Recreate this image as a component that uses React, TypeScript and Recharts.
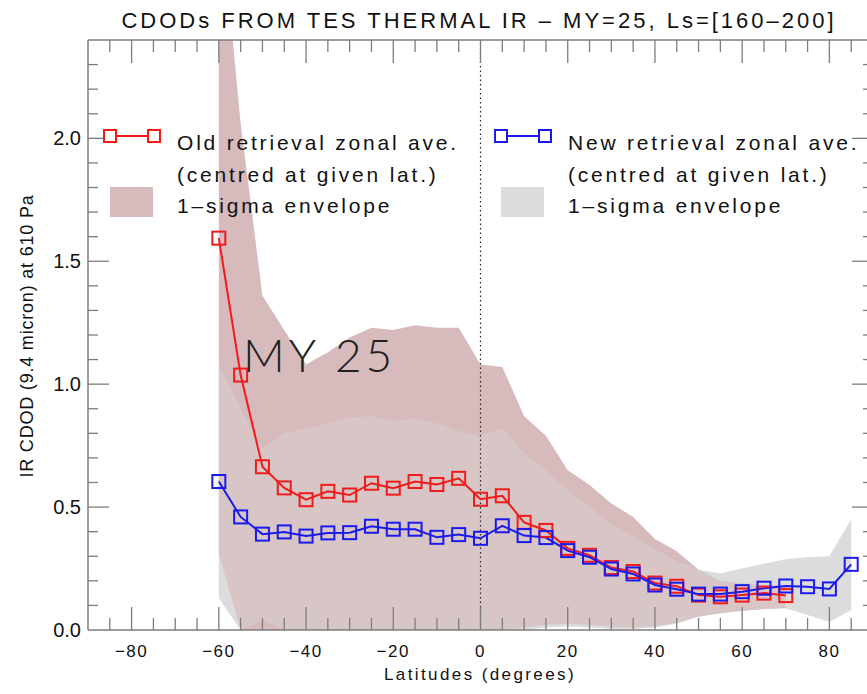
import React from "react";
import { ComposedChart, Line, Area, XAxis, YAxis, ReferenceLine } from "recharts";

// latitude bins (centre of each 5 degree band)
const LATS = [
  -60, -55, -50, -45, -40, -35, -30, -25, -20, -15, -10, -5, 0, 5, 10, 15, 20, 25, 30, 35, 40, 45,
  50, 55, 60, 65, 70, 75, 80, 85,
];

// old retrieval zonal average + 1-sigma envelope
const OLD_MEAN = [
  1.594, 1.037, 0.664, 0.578, 0.53, 0.564, 0.549, 0.597, 0.577, 0.604, 0.592, 0.617, 0.532, 0.546,
  0.438, 0.405, 0.332, 0.304, 0.254, 0.238, 0.191, 0.178, 0.142, 0.135, 0.142, 0.15, 0.14, null,
  null, null,
];
const OLD_UPPER = [
  3.0, 2.06, 1.36, 1.22, 1.08, 1.13, 1.19, 1.23, 1.22, 1.24, 1.23, 1.23, 1.08, 1.07, 0.87, 0.79,
  0.65, 0.59, 0.515, 0.46, 0.37, 0.32, 0.245, 0.2, 0.19, 0.185, 0.18, null, null, null,
];
const OLD_LOWER = [
  0.31, 0, 0, 0, 0, 0, 0, 0, 0, 0, 0, 0, 0, 0, 0.01, 0.02, 0.025, 0.02, 0.012, 0.008, 0.015, 0.03,
  0.055, 0.068, 0.078, 0.085, 0.09, null, null, null,
];

// new retrieval zonal average + 1-sigma envelope
const NEW_MEAN = [
  0.604, 0.46, 0.39, 0.399, 0.382, 0.395, 0.396, 0.422, 0.41, 0.41, 0.377, 0.388, 0.373, 0.424,
  0.384, 0.376, 0.323, 0.296, 0.248, 0.228, 0.183, 0.166, 0.146, 0.146, 0.156, 0.17, 0.179, 0.176,
  0.167, 0.267,
];
const NEW_UPPER = [
  1.08, 0.9, 0.74, 0.8, 0.82, 0.84, 0.865, 0.87, 0.85, 0.86, 0.84, 0.81, 0.79, 0.82, 0.72, 0.65,
  0.57, 0.5, 0.43, 0.38, 0.33, 0.28, 0.245, 0.23, 0.25, 0.27, 0.288, 0.296, 0.3, 0.45,
];
const NEW_LOWER = [
  0.13, 0, 0.04, 0, 0, 0, 0, 0, 0, 0, 0, 0, 0, 0, 0, 0.01, 0.015, 0.01, 0.005, 0.005, 0.01, 0.025,
  0.055, 0.068, 0.078, 0.085, 0.088, 0.061, 0.034, 0.081,
];

const X_TICKS = [
  -85, -80, -75, -70, -65, -60, -55, -50, -45, -40, -35, -30, -25, -20, -15, -10, -5, 0, 5, 10, 15,
  20, 25, 30, 35, 40, 45, 50, 55, 60, 65, 70, 75, 80, 85,
];
const Y_TICKS = [
  0, 0.1, 0.2, 0.3, 0.4, 0.5, 0.6, 0.7, 0.8, 0.9, 1.0, 1.1, 1.2, 1.3, 1.4, 1.5, 1.6, 1.7, 1.8, 1.9,
  2.0, 2.1, 2.2, 2.3,
];

const TITLE = "CDODs FROM TES THERMAL IR \u2013 MY=25, Ls=[160\u2013200]";

const RED = "#f21a1a";
const BLUE = "#1a1aee";
const ROSE = "#d6babc";
const GREY = "#dcdcdc";
const AXIS = "#7d7d7d";
const FONT = "'Liberation Sans', Arial, sans-serif";

const W = 880;
const H = 694;
const MARGIN = { top: 39, right: 6, bottom: 63, left: 87 };
// height of the plotting frame (each frame axis takes 1px)
const FRAME_H = H - MARGIN.top - MARGIN.bottom - 2;

const rows = LATS.map((lat, i) => ({
  lat,
  oldMean: OLD_MEAN[i],
  newMean: NEW_MEAN[i],
  oldEnv: OLD_UPPER[i] == null ? null : [OLD_LOWER[i], OLD_UPPER[i]],
  newEnv: [NEW_LOWER[i], NEW_UPPER[i]],
}));

const fmtLat = (v: number) => (v < 0 ? `\u2212${Math.abs(v)}` : `${v}`);
const isMajorX = (v: number) => v % 20 === 0;
const isMajorY = (v: number) => Math.round(v * 10) % 5 === 0;

function BottomTick(props: any) {
  const { x, y, payload } = props;
  const v = payload.value as number;
  if (!isMajorX(v)) return <g />;
  return (
    <text
      x={x}
      y={y + 27}
      textAnchor="middle"
      fontFamily={FONT}
      fontSize={17}
      letterSpacing={1.5}
      fill="#111"
    >
      {fmtLat(v)}
    </text>
  );
}

// inward ticks on both the top and the bottom edge of the frame
function TopTick(props: any) {
  const { x, y, payload } = props;
  const len = isMajorX(payload.value) ? 23 : 12;
  const yb = y + FRAME_H;
  return (
    <g>
      <line x1={x} x2={x} y1={y} y2={y + len} stroke={AXIS} strokeWidth={1.3} />
      <line x1={x} x2={x} y1={yb} y2={yb - len} stroke={AXIS} strokeWidth={1.3} />
    </g>
  );
}

function LeftTick(props: any) {
  const { x, y, payload } = props;
  const v = payload.value as number;
  const major = isMajorY(v);
  return (
    <g>
      {v > 0 && (
        <line x1={x} x2={x + (major ? 21 : 10)} y1={y} y2={y} stroke={AXIS} strokeWidth={1.3} />
      )}
      {major && (
        <text x={x - 7} y={y + 7} textAnchor="end" fontFamily={FONT} fontSize={20} fill="#111">
          {v.toFixed(1)}
        </text>
      )}
    </g>
  );
}

function RightTick(props: any) {
  const { x, y, payload } = props;
  const v = payload.value as number;
  if (v <= 0) return <g />;
  const major = isMajorY(v);
  return <line x1={x} x2={x - (major ? 21 : 10)} y1={y} y2={y} stroke={AXIS} strokeWidth={1.3} />;
}

// the four frame axes; drawn invisibly under the data (for the scales) and
// visibly in a second chart on top so the inward ticks sit over the envelopes
function frameAxes(show: boolean) {
  const line = show ? { stroke: AXIS, strokeWidth: 1.5 } : false;
  return [
    <XAxis
      key="xb"
      xAxisId="b"
      dataKey="lat"
      type="number"
      domain={[-90, 90]}
      ticks={X_TICKS}
      interval={0}
      height={1}
      tickSize={0}
      tickMargin={0}
      tick={show ? <BottomTick /> : false}
      axisLine={line}
      allowDataOverflow
    />,
    <XAxis
      key="xt"
      xAxisId="t"
      orientation="top"
      dataKey="lat"
      type="number"
      domain={[-90, 90]}
      ticks={X_TICKS}
      interval={0}
      height={1}
      tickSize={0}
      tickMargin={0}
      tick={show ? <TopTick /> : false}
      axisLine={line}
      allowDataOverflow
    />,
    <YAxis
      key="yl"
      yAxisId="l"
      type="number"
      domain={[0, 2.4]}
      ticks={Y_TICKS}
      interval={0}
      width={1}
      tickSize={0}
      tickMargin={0}
      tick={show ? <LeftTick /> : false}
      axisLine={line}
      allowDataOverflow
    />,
    <YAxis
      key="yr"
      yAxisId="r"
      orientation="right"
      type="number"
      domain={[0, 2.4]}
      ticks={Y_TICKS}
      interval={0}
      width={1}
      tickSize={0}
      tickMargin={0}
      tick={show ? <RightTick /> : false}
      axisLine={line}
      allowDataOverflow
    />,
  ];
}

const squareDot = (color: string) => (props: any) => {
  const { cx, cy, index } = props;
  if (cx == null || cy == null || props.value == null) return <g key={`d-${index}`} />;
  return (
    <rect
      key={`d-${index}`}
      x={cx - 6.5}
      y={cy - 6.5}
      width={13}
      height={13}
      fill="none"
      stroke={color}
      strokeWidth={2}
    />
  );
};

function LegendBlock({
  x,
  textX,
  color,
  swatch,
  title,
}: {
  x: number;
  textX: number;
  color: string;
  swatch: string;
  title: string;
}) {
  const text = {
    fontFamily: FONT,
    fontSize: 21,
    letterSpacing: 2.8,
    fill: "#111",
  } as const;
  return (
    <g>
      <line x1={x} x2={x + 44} y1={136} y2={136} stroke={color} strokeWidth={2} />
      <rect x={x - 6} y={130} width={12} height={12} fill="#fff" stroke={color} strokeWidth={2} />
      <rect x={x + 38} y={130} width={12} height={12} fill="#fff" stroke={color} strokeWidth={2} />
      <rect x={x} y={187} width={43} height={30} fill={swatch} />
      <text x={textX} y={150} {...text}>
        {title}
      </text>
      <text x={textX} y={182} {...text}>
        (centred at given lat.)
      </text>
      <text x={textX} y={213} {...text}>
        1{"\u2013"}sigma envelope
      </text>
    </g>
  );
}

const layer = { position: "absolute", left: 0, top: 0 } as const;

export default function App() {
  return (
    <div
      style={{
        position: "absolute",
        left: 0,
        top: 0,
        width: 867,
        height: 694,
        overflow: "hidden",
        background: "#fff",
      }}
    >
      <div style={layer}>
        <ComposedChart width={W} height={H} data={rows} margin={MARGIN}>
          {frameAxes(false)}

          {/* envelopes: grey underneath, rose on top, grey veil over the overlap */}
          <Area
            xAxisId="b"
            yAxisId="l"
            dataKey="newEnv"
            type="linear"
            stroke="none"
            fill={GREY}
            fillOpacity={1}
            isAnimationActive={false}
          />
          <Area
            xAxisId="b"
            yAxisId="l"
            dataKey="oldEnv"
            type="linear"
            stroke="none"
            fill={ROSE}
            fillOpacity={1}
            connectNulls={false}
            isAnimationActive={false}
          />
          <Area
            xAxisId="b"
            yAxisId="l"
            dataKey="newEnv"
            type="linear"
            stroke="none"
            fill={GREY}
            fillOpacity={0.35}
            isAnimationActive={false}
          />

          <ReferenceLine
            xAxisId="b"
            yAxisId="l"
            x={0}
            stroke="#222"
            strokeWidth={1.2}
            strokeDasharray="1.5 3"
          />

          <Line
            xAxisId="b"
            yAxisId="l"
            dataKey="oldMean"
            type="linear"
            stroke={RED}
            strokeWidth={2}
            dot={squareDot(RED)}
            activeDot={false}
            connectNulls={false}
            isAnimationActive={false}
          />
          <Line
            xAxisId="b"
            yAxisId="l"
            dataKey="newMean"
            type="linear"
            stroke={BLUE}
            strokeWidth={2}
            dot={squareDot(BLUE)}
            activeDot={false}
            isAnimationActive={false}
          />
        </ComposedChart>
      </div>

      <div style={{ ...layer, pointerEvents: "none" }}>
        <ComposedChart width={W} height={H} data={rows} margin={MARGIN}>
          {frameAxes(true)}
        </ComposedChart>
      </div>

      <svg width={W} height={H} style={{ ...layer, pointerEvents: "none" }}>
        <text
          x={479}
          y={28}
          textAnchor="middle"
          fontFamily={FONT}
          fontSize={22}
          letterSpacing={3}
          fill="#111"
        >
          {TITLE}
        </text>
        <text
          x={480}
          y={680}
          textAnchor="middle"
          fontFamily={FONT}
          fontSize={17}
          letterSpacing={2.4}
          fill="#111"
        >
          Latitudes (degrees)
        </text>
        <text
          transform="translate(33 336) rotate(-90)"
          textAnchor="middle"
          fontFamily={FONT}
          fontSize={18}
          letterSpacing={0.8}
          fill="#111"
        >
          IR CDOD (9.4 micron) at 610 Pa
        </text>
        <text
          x={243}
          y={372}
          fontFamily="Lato, 'Noto Sans', sans-serif"
          fontWeight={300}
          fontSize={46}
          letterSpacing={4}
          fill="#222"
        >
          MY 25
        </text>
        <LegendBlock x={110} textX={177} color={RED} swatch={ROSE} title="Old retrieval zonal ave." />
        <LegendBlock x={501} textX={568} color={BLUE} swatch={GREY} title="New retrieval zonal ave." />
      </svg>
    </div>
  );
}
